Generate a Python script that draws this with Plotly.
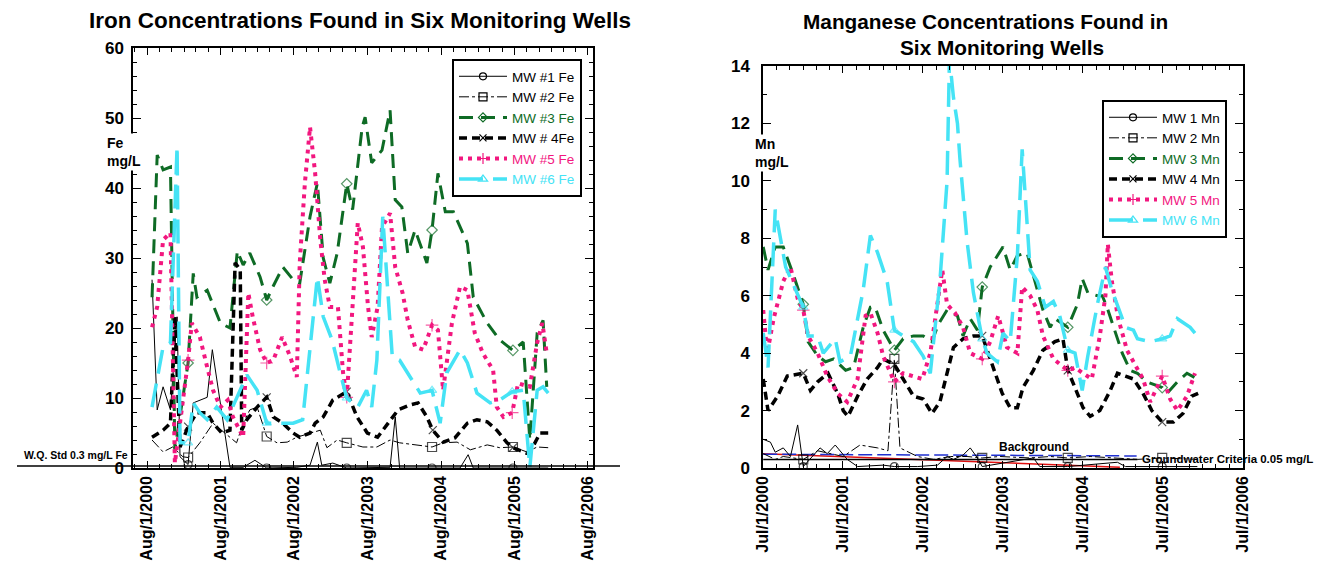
import plotly.graph_objects as go
from datetime import datetime, timedelta

# ---------------- DATA (decimal years, concentrations) ----------------
FE_MARK_YEARS = [2001.14, 2002.21, 2003.30, 2004.46, 2005.56]
MN_MARK_YEARS = [2001.00, 2002.14, 2003.24, 2004.31, 2005.49]

FE_MW1_T = [2000.65, 2000.72, 2000.80, 2000.90, 2000.99, 2001.03, 2001.14, 2001.21, 2001.40, 2001.47, 2001.71, 2001.89, 2002.05, 2002.21, 2002.62, 2002.80, 2002.90, 2002.96, 2003.11, 2003.30, 2003.89, 2003.96, 2004.02, 2004.46, 2004.84, 2004.95, 2005.02, 2005.56, 2006.04]
FE_MW1_V = [26.9, 8.3, 11.6, 8.3, 21.6, 1.6, 0.5, 9.3, 10.1, 16.9, 0.1, 0.1, 1.1, 0.0, 0.1, 0.4, 3.7, 0.4, 0.7, 0.0, 0.1, 7.3, 0.0, 0.0, 0.0, 1.9, 0.0, 0.0, 0.0]

FE_MW2_T = [2000.65, 2000.80, 2000.93, 2001.07, 2001.14, 2001.30, 2001.48, 2001.80, 2001.89, 2001.98, 2002.08, 2002.21, 2002.35, 2002.49, 2002.62, 2002.80, 2002.94, 2003.03, 2003.17, 2003.30, 2003.52, 2003.71, 2003.89, 2004.02, 2004.25, 2004.46, 2004.61, 2004.80, 2004.98, 2005.21, 2005.38, 2005.56, 2005.75, 2005.89, 2006.04]
FE_MW2_V = [4.0, 2.3, 3.0, 1.6, 1.5, 3.6, 6.4, 3.6, 6.4, 8.3, 8.7, 4.5, 3.6, 3.7, 4.4, 5.0, 5.4, 2.9, 4.0, 3.6, 3.0, 3.0, 4.0, 3.6, 3.3, 3.0, 3.6, 3.7, 2.6, 3.3, 2.9, 3.0, 2.3, 3.0, 2.9]

FE_MW3_T = [2000.65, 2000.72, 2000.80, 2000.90, 2000.96, 2001.14, 2001.21, 2001.26, 2001.40, 2001.58, 2001.71, 2001.81, 2001.89, 2001.98, 2002.12, 2002.21, 2002.30, 2002.43, 2002.57, 2002.66, 2002.80, 2002.90, 2002.98, 2003.07, 2003.17, 2003.30, 2003.38, 2003.51, 2003.55, 2003.64, 2003.78, 2003.89, 2003.96, 2004.05, 2004.13, 2004.23, 2004.39, 2004.46, 2004.54, 2004.64, 2004.75, 2004.94, 2005.02, 2005.21, 2005.38, 2005.56, 2005.70, 2005.79, 2005.89, 2005.97, 2006.02]
FE_MW3_V = [24.4, 44.7, 42.6, 43.0, 2.6, 15.0, 27.8, 24.4, 25.4, 20.7, 20.0, 31.0, 29.0, 30.7, 27.3, 24.0, 26.0, 28.7, 26.9, 26.4, 35.9, 40.7, 30.0, 26.4, 30.7, 40.6, 36.9, 48.7, 50.1, 43.6, 45.4, 51.1, 38.3, 37.3, 30.7, 34.0, 29.3, 34.0, 42.1, 36.6, 36.6, 32.1, 24.4, 20.7, 18.3, 16.8, 18.0, 4.0, 19.3, 21.1, 11.6]

FE_MW4_T = [2000.65, 2000.80, 2000.90, 2000.96, 2001.03, 2001.14, 2001.26, 2001.40, 2001.48, 2001.60, 2001.71, 2001.78, 2001.85, 2001.87, 2001.94, 2002.08, 2002.21, 2002.30, 2002.43, 2002.57, 2002.66, 2002.80, 2002.87, 2002.98, 2003.11, 2003.30, 2003.44, 2003.58, 2003.72, 2004.00, 2004.16, 2004.27, 2004.39, 2004.47, 2004.61, 2004.77, 2004.94, 2005.07, 2005.21, 2005.34, 2005.48, 2005.56, 2005.75, 2005.83, 2005.93, 2006.04]
FE_MW4_V = [4.4, 5.4, 6.4, 21.6, 3.0, 5.9, 7.9, 7.9, 6.4, 5.0, 5.4, 29.3, 28.3, 5.4, 6.9, 8.7, 10.1, 7.3, 6.4, 5.0, 4.4, 5.0, 6.4, 7.3, 9.7, 10.9, 7.3, 5.0, 4.4, 8.3, 9.0, 9.3, 7.3, 5.4, 3.7, 4.3, 6.4, 6.9, 6.6, 5.4, 3.6, 2.9, 2.1, 3.0, 5.0, 5.0]

FE_MW5_T = [2000.65, 2000.72, 2000.80, 2000.90, 2000.96, 2001.14, 2001.19, 2001.30, 2001.40, 2001.48, 2001.58, 2001.68, 2001.75, 2001.89, 2001.96, 2002.02, 2002.12, 2002.21, 2002.30, 2002.42, 2002.53, 2002.62, 2002.66, 2002.73, 2002.80, 2002.87, 2002.94, 2003.00, 2003.07, 2003.18, 2003.25, 2003.30, 2003.37, 2003.45, 2003.52, 2003.59, 2003.64, 2003.72, 2003.78, 2003.89, 2003.96, 2004.06, 2004.13, 2004.23, 2004.34, 2004.46, 2004.54, 2004.61, 2004.73, 2004.84, 2004.94, 2005.04, 2005.15, 2005.29, 2005.34, 2005.43, 2005.55, 2005.63, 2005.79, 2005.89, 2005.96, 2006.02]
FE_MW5_V = [20.1, 23.0, 32.6, 33.6, 0.7, 15.4, 20.7, 18.7, 14.4, 11.1, 8.7, 9.7, 7.3, 4.4, 25.0, 21.6, 16.9, 15.0, 15.4, 18.7, 15.9, 13.0, 29.3, 40.7, 48.7, 42.1, 32.6, 26.9, 23.0, 23.0, 13.6, 10.1, 21.6, 35.0, 31.6, 23.0, 18.7, 23.0, 34.4, 36.4, 28.7, 25.0, 21.1, 17.3, 16.9, 20.4, 19.7, 11.1, 20.7, 25.9, 25.4, 19.3, 16.4, 14.0, 8.7, 7.3, 7.9, 12.1, 11.6, 17.9, 20.7, 16.4]

FE_MW6_T = [2000.65, 2000.80, 2000.90, 2000.99, 2001.03, 2001.14, 2001.21, 2001.30, 2001.40, 2001.53, 2001.67, 2001.85, 2001.94, 2002.08, 2002.21, 2002.39, 2002.57, 2002.70, 2002.83, 2002.90, 2002.98, 2003.10, 2003.21, 2003.30, 2003.45, 2003.57, 2003.64, 2003.71, 2003.79, 2003.86, 2003.92, 2004.02, 2004.16, 2004.30, 2004.46, 2004.57, 2004.66, 2004.84, 2004.94, 2005.07, 2005.25, 2005.38, 2005.55, 2005.70, 2005.79, 2005.89, 2005.97, 2006.04]
FE_MW6_V = [8.7, 17.3, 17.9, 46.0, 3.6, 3.6, 9.3, 7.9, 6.9, 8.7, 6.9, 11.1, 13.3, 11.1, 6.4, 6.4, 6.4, 6.9, 19.7, 27.3, 21.6, 18.3, 13.6, 10.0, 8.7, 11.1, 8.7, 15.4, 35.9, 25.0, 15.9, 15.4, 13.0, 10.7, 11.1, 6.4, 13.6, 16.9, 15.0, 10.7, 9.3, 9.7, 10.9, 11.1, 0.1, 11.1, 11.6, 10.7]

MN_MW1_T = [2000.50, 2000.59, 2000.65, 2000.75, 2000.84, 2000.93, 2001.00, 2001.21, 2001.30, 2001.40, 2001.55, 2001.68, 2002.00, 2002.14, 2002.43, 2002.68, 2002.80, 2002.88, 2003.00, 2003.09, 2003.18, 2003.24, 2003.88, 2003.96, 2004.31, 2004.93, 2005.03, 2005.49, 2005.93]
MN_MW1_V = [1.0, 0.9, 0.55, 0.7, 0.4, 1.5, 0.05, 0.7, 0.5, 0.8, 0.3, 0.05, 0.1, 0.05, 0.05, 0.1, 0.4, 0.3, 0.45, 0.7, 0.35, 0.05, 0.35, 0.05, 0.05, 0.2, 0.05, 0.05, 0.05]

MN_MW2_T = [2000.50, 2000.65, 2000.75, 2001.00, 2001.18, 2001.50, 2001.71, 2001.93, 2002.06, 2002.14, 2002.21, 2002.43, 2002.63, 2002.84, 2003.05, 2003.24, 2003.46, 2003.84, 2004.09, 2004.31, 2004.59, 2004.84, 2005.18, 2005.49, 2005.93]
MN_MW2_V = [0.5, 0.3, 0.4, 0.3, 0.6, 0.4, 0.8, 0.7, 0.6, 3.8, 0.7, 0.4, 0.3, 0.4, 0.4, 0.35, 0.4, 0.35, 0.4, 0.35, 0.4, 0.35, 0.3, 0.35, 0.3]

MN_MW3_T = [2000.50, 2000.56, 2000.65, 2000.75, 2000.88, 2001.00, 2001.06, 2001.18, 2001.28, 2001.38, 2001.53, 2001.63, 2001.75, 2001.84, 2001.90, 2002.00, 2002.14, 2002.25, 2002.38, 2002.50, 2002.61, 2002.69, 2002.80, 2002.93, 2003.00, 2003.09, 2003.18, 2003.24, 2003.34, 2003.50, 2003.59, 2003.68, 2003.80, 2003.93, 2004.00, 2004.09, 2004.15, 2004.31, 2004.43, 2004.49, 2004.56, 2004.68, 2004.74, 2004.80, 2004.88, 2004.99, 2005.09, 2005.18, 2005.30, 2005.49, 2005.55, 2005.68, 2005.80, 2005.93]
MN_MW3_V = [7.7, 6.9, 7.7, 7.7, 6.7, 5.7, 4.4, 3.9, 3.7, 3.8, 3.4, 3.5, 4.9, 5.6, 5.6, 4.8, 4.1, 4.5, 4.6, 4.6, 4.4, 5.0, 5.5, 5.3, 4.6, 5.2, 4.8, 6.3, 7.0, 7.7, 6.9, 7.4, 7.5, 6.2, 5.5, 4.9, 5.2, 4.9, 5.7, 6.6, 6.1, 6.0, 6.0, 5.6, 4.9, 4.0, 3.4, 3.3, 3.0, 2.8, 2.6, 3.0, 3.3, 3.1]

MN_MW4_T = [2000.50, 2000.56, 2000.68, 2000.80, 2001.00, 2001.09, 2001.18, 2001.31, 2001.43, 2001.50, 2001.56, 2001.68, 2001.80, 2001.93, 2002.00, 2002.14, 2002.25, 2002.38, 2002.50, 2002.61, 2002.71, 2002.80, 2002.88, 2003.00, 2003.13, 2003.24, 2003.38, 2003.49, 2003.59, 2003.68, 2003.75, 2003.88, 2004.00, 2004.15, 2004.25, 2004.31, 2004.40, 2004.50, 2004.59, 2004.71, 2004.84, 2004.93, 2005.03, 2005.13, 2005.25, 2005.36, 2005.49, 2005.63, 2005.75, 2005.86, 2005.94]
MN_MW4_V = [3.1, 2.0, 2.5, 3.2, 3.3, 2.7, 3.0, 3.3, 2.6, 2.0, 1.8, 2.5, 3.1, 3.5, 3.8, 3.6, 3.1, 2.5, 2.4, 1.9, 2.3, 3.3, 4.2, 4.5, 4.6, 4.6, 3.5, 2.6, 2.1, 2.1, 2.8, 3.4, 4.1, 4.4, 4.5, 3.4, 2.8, 2.1, 1.8, 2.0, 2.7, 3.3, 3.2, 3.1, 2.6, 2.0, 1.6, 1.6, 1.9, 2.5, 2.6]

MN_MW5_T = [2000.50, 2000.55, 2000.63, 2000.75, 2000.84, 2000.93, 2001.00, 2001.06, 2001.18, 2001.30, 2001.43, 2001.55, 2001.68, 2001.78, 2001.84, 2001.93, 2002.00, 2002.09, 2002.14, 2002.25, 2002.38, 2002.49, 2002.59, 2002.68, 2002.74, 2002.80, 2002.90, 2003.00, 2003.09, 2003.24, 2003.34, 2003.44, 2003.55, 2003.68, 2003.74, 2003.84, 2003.93, 2004.00, 2004.13, 2004.31, 2004.40, 2004.50, 2004.61, 2004.71, 2004.78, 2004.81, 2004.86, 2004.94, 2005.05, 2005.13, 2005.25, 2005.34, 2005.49, 2005.59, 2005.68, 2005.80, 2005.90]
MN_MW5_V = [5.5, 4.0, 5.2, 6.5, 7.0, 5.9, 5.5, 4.6, 4.0, 3.2, 2.6, 2.3, 3.1, 5.3, 5.4, 4.7, 3.9, 3.3, 3.0, 3.3, 3.2, 3.1, 4.0, 5.9, 6.9, 5.7, 5.4, 4.9, 4.0, 3.8, 4.4, 5.3, 4.2, 4.0, 6.3, 6.0, 5.5, 4.6, 3.8, 3.4, 3.5, 3.3, 3.1, 4.6, 6.0, 7.8, 6.5, 5.2, 4.1, 3.7, 3.1, 2.3, 3.2, 2.4, 2.0, 2.5, 3.3]

MN_MW6_T = [2000.50, 2000.56, 2000.65, 2000.71, 2000.78, 2001.00, 2001.06, 2001.18, 2001.25, 2001.40, 2001.46, 2001.59, 2001.75, 2001.84, 2001.93, 2002.05, 2002.14, 2002.25, 2002.38, 2002.50, 2002.59, 2002.71, 2002.80, 2002.83, 2002.88, 2002.93, 2002.96, 2003.05, 2003.13, 2003.24, 2003.30, 2003.43, 2003.50, 2003.59, 2003.68, 2003.74, 2003.84, 2003.93, 2004.03, 2004.13, 2004.21, 2004.31, 2004.40, 2004.49, 2004.56, 2004.68, 2004.78, 2004.86, 2005.03, 2005.13, 2005.18, 2005.34, 2005.49, 2005.59, 2005.68, 2005.84, 2005.90]
MN_MW6_V = [4.7, 3.5, 9.0, 8.1, 7.0, 5.6, 4.6, 4.6, 4.0, 4.5, 3.7, 3.9, 6.2, 8.1, 7.5, 6.5, 4.8, 4.6, 4.4, 3.9, 3.3, 6.5, 10.0, 14.3, 12.9, 12.0, 10.8, 7.9, 6.1, 4.5, 4.0, 3.7, 4.7, 4.4, 7.4, 11.1, 6.9, 6.5, 5.6, 5.8, 5.3, 4.1, 4.0, 2.7, 3.9, 5.7, 7.0, 6.2, 4.9, 4.8, 4.5, 4.4, 4.5, 4.6, 5.2, 4.9, 4.7]

MN_BG_T = [2000.50, 2005.17]
MN_BG_V = [0.48, 0.42]
MN_TREND_T = [2000.50, 2004.96]
MN_TREND_V = [0.50, 0.03]
MN_CRIT_T = [2000.50, 2005.18]
MN_CRIT_V = [0.30, 0.30]

FE_NAMES = ["MW #1 Fe", "MW #2 Fe", "MW #3 Fe", "MW # 4Fe", "MW #5 Fe", "MW #6 Fe"]
MN_NAMES = ["MW 1 Mn", "MW 2 Mn", "MW 3 Mn", "MW 4 Mn", "MW 5 Mn", "MW 6 Mn"]

# ---------------- helpers ----------------
W, H = 1329, 565
def px(x): return x / W
def py(y): return 1 - y / H

def to_date(t):
    y = int(t)
    days = 366 if y % 4 == 0 else 365
    return datetime(y, 1, 1) + timedelta(days=(t - y) * days)

def to_dates(ts): return [to_date(t) for t in ts]

def mark_sizes(ts, marks, size):
    s = [0] * len(ts)
    for m in marks:
        i = min(range(len(ts)), key=lambda k: abs(ts[k] - m))
        s[i] = size
    return s

FONT = "Liberation Sans, Arial, sans-serif"
GREEN = "#0e6b25"
PINK = "#f2177f"
CYAN = "#45e3f5"

STYLES = [
    dict(color="black", width=1, dash="solid", symbol="circle-open", msize=8, lsize=7, tcolor="black"),
    dict(color="black", width=1, dash="10px,3px,3px,3px", symbol="square-open", msize=9, lsize=8, tcolor="black"),
    dict(color=GREEN, width=3, dash="14px,8px", symbol="diamond-open", msize=8, lsize=7, tcolor=GREEN),
    dict(color="black", width=3.5, dash="8px,5px", symbol="x-thin-open", msize=8, lsize=7, tcolor="black"),
    dict(color=PINK, width=4, dash="4px,5px", symbol="cross-thin-open", msize=9, lsize=8, tcolor=PINK),
    dict(color=CYAN, width=3.5, dash="24px,10px", symbol="triangle-up-open", msize=8, lsize=8, tcolor=CYAN),
]

fig = go.Figure()

def add_series(ts, vs, st, marks, xa, ya):
    fig.add_trace(go.Scatter(
        x=to_dates(ts), y=vs, mode="lines+markers", xaxis=xa, yaxis=ya, showlegend=False,
        line=dict(color=st["color"], width=st["width"], dash=st["dash"]),
        marker=dict(symbol=st["symbol"], size=mark_sizes(ts, marks, st["msize"]), color=st["color"],
                    line=dict(width=1.2, color=st["color"])),
        hoverinfo="skip"))

FE = [(FE_MW1_T, FE_MW1_V), (FE_MW2_T, FE_MW2_V), (FE_MW3_T, FE_MW3_V),
      (FE_MW4_T, FE_MW4_V), (FE_MW5_T, FE_MW5_V), (FE_MW6_T, FE_MW6_V)]
MN = [(MN_MW1_T, MN_MW1_V), (MN_MW2_T, MN_MW2_V), (MN_MW3_T, MN_MW3_V),
      (MN_MW4_T, MN_MW4_V), (MN_MW5_T, MN_MW5_V), (MN_MW6_T, MN_MW6_V)]

# reference lines on Mn chart
fig.add_trace(go.Scatter(x=to_dates(MN_TREND_T), y=MN_TREND_V, mode="lines", xaxis="x2", yaxis="y2",
                         line=dict(color="#e01010", width=1.5), showlegend=False, hoverinfo="skip"))
fig.add_trace(go.Scatter(x=to_dates(MN_CRIT_T), y=MN_CRIT_V, mode="lines", xaxis="x2", yaxis="y2",
                         line=dict(color="black", width=1.5), showlegend=False, hoverinfo="skip"))
fig.add_trace(go.Scatter(x=to_dates(MN_BG_T), y=MN_BG_V, mode="lines", xaxis="x2", yaxis="y2",
                         line=dict(color="#1f2fd0", width=1.5, dash="14px,5px"), showlegend=False, hoverinfo="skip"))

for (ts, vs), st in zip(FE, STYLES):
    add_series(ts, vs, st, FE_MARK_YEARS, "x", "y")
for (ts, vs), st in zip(MN, STYLES):
    add_series(ts, vs, st, MN_MARK_YEARS, "x2", "y2")

# legend entries
def legend_entry(name, st, xa, ya, lg):
    fig.add_trace(go.Scatter(x=[None], y=[None], mode="lines+markers", xaxis=xa, yaxis=ya,
                             name=f"<span style='color:{st['tcolor']}'>{name}</span>", legend=lg,
                             line=dict(color=st["color"], width=st["width"], dash=st["dash"]),
                             marker=dict(symbol=st["symbol"], size=st["lsize"], color=st["color"],
                                         line=dict(width=1.2, color=st["color"]))))
for name, st in zip(FE_NAMES, STYLES):
    legend_entry(name, st, "x", "y", "legend")
for name, st in zip(MN_NAMES, STYLES):
    legend_entry(name, st, "x2", "y2", "legend2")

XTICKFONT = dict(family=FONT, size=16, color="black", weight="bold")
YTICKFONT = dict(family=FONT, size=17, color="black", weight="bold")
common_x = dict(type="date", tickmode="linear", dtick="M12", tickformat="%b/%-d/%Y", tickangle=-90,
                ticks="inside", ticklen=7, tickcolor="black", tickwidth=1, showline=True, linecolor="black",
                linewidth=1.5, mirror="ticks", showgrid=False, zeroline=False, tickfont=XTICKFONT,
                automargin=False)
common_y = dict(ticks="inside", ticklen=8, tickcolor="black", tickwidth=1, showline=True, linecolor="black",
                linewidth=1.5, mirror="ticks", showgrid=False, zeroline=False, tickfont=YTICKFONT,
                automargin=False)

legend_common = dict(xanchor="left", yanchor="top", bgcolor="white", bordercolor="black", borderwidth=2,
                     font=dict(family=FONT, size=13.5, color="black"), itemwidth=48, tracegroupgap=0)

fig.update_layout(
    width=W, height=H, margin=dict(l=0, r=0, t=0, b=0, autoexpand=False),
    paper_bgcolor="white", plot_bgcolor="white", showlegend=True,
    font=dict(family=FONT, color="black"),
    xaxis=dict(common_x, domain=[px(133), px(593)], anchor="y", tick0="2000-08-01",
               range=[to_date(2000.3915), to_date(2006.65)],
               minor=dict(dtick="M2", tick0="2000-08-01", ticks="inside", ticklen=4, tickcolor="black", showgrid=False)),
    yaxis=dict(common_y, domain=[py(468), py(48)], anchor="x", range=[0, 60], dtick=10, ticklabelstandoff=4,
               minor=dict(dtick=2, ticks="inside", ticklen=4, tickcolor="black", showgrid=False)),
    xaxis2=dict(common_x, domain=[px(763), px(1243)], anchor="y2", tick0="2000-07-01",
                range=["2000-07-01", "2006-07-03"],
                minor=dict(dtick="M2", tick0="2000-07-01", ticks="inside", ticklen=4, tickcolor="black", showgrid=False)),
    yaxis2=dict(common_y, domain=[py(468), py(66)], anchor="x2", range=[0, 14], dtick=2, ticklabelstandoff=8,
                minor=dict(dtick=1, ticks="inside", ticklen=4, tickcolor="black", showgrid=False)),
    legend=dict(legend_common, x=px(452), y=py(59)),
    legend2=dict(legend_common, x=px(1102), y=py(100)),
)

# W.Q. standard line (0.3 mg/L) drawn across the left panel and beyond
fig.add_shape(type="line", xref="paper", yref="paper", x0=px(17), x1=px(620), y0=py(466), y1=py(466),
              line=dict(color="black", width=1.5))
# drop shadow behind the Mn legend box
fig.add_shape(type="rect", xref="paper", yref="paper", x0=px(1105), x1=px(1227), y0=py(103), y1=py(234),
              line=dict(width=0), fillcolor="black", layer="above")

TITLE_L = dict(family=FONT, size=22.5, color="black", weight="bold")
TITLE_R = dict(family=FONT, size=20.8, color="black", weight="bold")
LBL = dict(family=FONT, size=14, color="black", weight="bold")
ann = [
    dict(text="Iron Concentrations Found in Six Monitoring Wells", x=px(360), y=py(20), font=TITLE_L),
    dict(text="Manganese Concentrations Found in", x=px(986), y=py(22), font=TITLE_R),
    dict(text="Six Monitoring Wells", x=px(1002), y=py(47), font=TITLE_R),
    dict(text="Fe<br>mg/L", x=px(105), y=py(152), xanchor="left", align="left", font=LBL, bgcolor="white"),
    dict(text="Mn<br>mg/L", x=px(753), y=py(153), xanchor="left", align="left", font=LBL, bgcolor="white"),
    dict(text="W.Q. Std 0.3 mg/L Fe", x=px(22), y=py(455), xanchor="left",
         font=dict(family=FONT, size=10.5, color="black", weight="bold")),
    dict(text="Background", x=px(997), y=py(447), xanchor="left",
         font=dict(family=FONT, size=12, color="black", weight="bold")),
    dict(text="Groundwater Criteria 0.05 mg/L", x=px(1140), y=py(459), xanchor="left",
         font=dict(family=FONT, size=11.5, color="black", weight="bold")),
]
for a in ann:
    a.setdefault("xanchor", "center")
    fig.add_annotation(xref="paper", yref="paper", showarrow=False, yanchor="middle", **a)

fig.write_html("out.html", config={"displayModeBar": False},
               post_script="document.body.style.margin='0px';document.body.style.padding='0px';")
